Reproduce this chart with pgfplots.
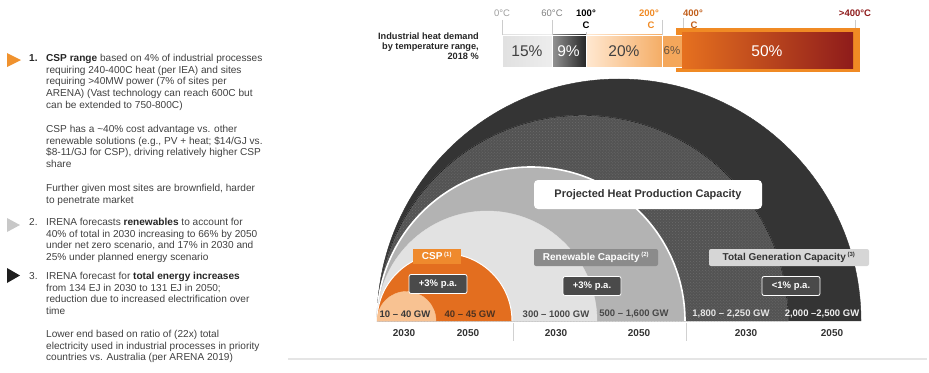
\documentclass[border=0pt]{standalone}
\usepackage{fontspec}
\setmainfont{Liberation Sans}
\usepackage{pgfplots}
\pgfplotsset{compat=1.18}
\usetikzlibrary{patterns}

\definecolor{txt}{HTML}{404040}
\definecolor{txtb}{HTML}{262626}
\definecolor{tdark}{HTML}{343434}
\definecolor{ttex}{HTML}{535353}
\definecolor{rmed}{HTML}{B3B3B3}
\definecolor{rlight}{HTML}{E2E2E2}
\definecolor{corange}{HTML}{E36E1F}
\definecolor{cpeach}{HTML}{F8C292}
\definecolor{boxorange}{HTML}{EF8A2D}
\definecolor{boxdark}{HTML}{4A4A4A}
\definecolor{boxgray}{HTML}{8B8B8B}
\definecolor{boxlight}{HTML}{D6D6D6}
\definecolor{tri1}{HTML}{F0922E}
\definecolor{tri2}{HTML}{C8C8C8}
\definecolor{tri3}{HTML}{1E1E1E}
\definecolor{frameor}{HTML}{F08A24}
\definecolor{red50}{HTML}{8E1B1B}
\definecolor{o50}{HTML}{E6711F}
\definecolor{gwor}{HTML}{4E3220}

% semicircle mark: radius = mark size, sitting on the data point
\pgfdeclareplotmark{semidisk}{%
  \pgfpathmoveto{\pgfqpoint{\pgfplotmarksize}{0pt}}%
  \pgfpatharc{0}{180}{\pgfplotmarksize}%
  \pgfpathclose
  \pgfusepathqfill
  \pgfpathmoveto{\pgfqpoint{\pgfplotmarksize}{0pt}}%
  \pgfpatharc{0}{180}{\pgfplotmarksize}%
  \pgfusepathqstroke
}

\newcommand{\fs}[2]{\fontsize{#1bp}{#2bp}\selectfont}

\tikzset{
  para/.style={anchor=base west, inner sep=0, text=txt, font=\fs{10.1}{11.7}},
  pct/.style={inner sep=0, font=\fs{15.5}{16}},
  tk/.style={anchor=base, inner sep=0, font=\fs{9.5}{10}},
  bx/.style={inner sep=0, font=\fs{10}{11}\bfseries, text=white},
  pa/.style={bx, fill=boxdark, draw=white, line width=0.8bp, rounded corners=2bp,
    minimum width=58bp, minimum height=19bp, font=\fs{9.5}{10}\bfseries},
  gw/.style={inner sep=0, font=\fs{9.5}{10}\bfseries},
  yr/.style={inner sep=0, font=\fs{10}{11}\bfseries, text=black!80}
}

\begin{document}
\begin{tikzpicture}
\begin{axis}[x=1bp, y=1bp, xmin=0, xmax=929, ymin=0, ymax=372,
  scale only axis, hide axis, clip=false, set layers=standard]
\path (axis cs:0,0) rectangle (axis cs:929,372);

% ---------------- left text panel ----------------
\addplot[fill=tri1, draw=none] coordinates {(7,319) (7,305) (21,312)} -- cycle;
\addplot[fill=tri2, draw=none] coordinates {(7,154) (7,140) (20,147)} -- cycle;
\addplot[fill=tri3, draw=none] coordinates {(7,104) (7,89) (20,96.5)} -- cycle;

\node[para, font=\fs{10.1}{11.7}\bfseries, text=txtb] at (axis cs:29,310.5) {1.};
\node[para] at (axis cs:46,310.5) {\parbox[t]{270bp}{\raggedright
\textbf{\color{txtb}CSP range} based on 4\% of industrial processes\\
requiring 240-400C heat (per IEA) and sites\\
requiring >40MW power (7\% of sites per\\
ARENA) (Vast technology can reach 600C but\\
can be extended to 750-800C)}};
\node[para] at (axis cs:46,239.5) {\parbox[t]{270bp}{\raggedright
CSP has a \textasciitilde40\% cost advantage vs. other\\
renewable solutions (e.g., PV + heat; \$14/GJ vs.\\
\$8-11/GJ for CSP), driving relatively higher CSP\\
share}};
\node[para] at (axis cs:46,180.5) {\parbox[t]{270bp}{\raggedright
Further given most sites are brownfield, harder\\
to penetrate market}};
\node[para] at (axis cs:29,146.5) {2.};
\node[para] at (axis cs:46,146.5) {\parbox[t]{270bp}{\raggedright
IRENA forecasts \textbf{\color{txtb}renewables} to account for\\
40\% of total in 2030 increasing to 66\% by 2050\\
under net zero scenario, and 17\% in 2030 and\\
25\% under planned energy scenario}};
\node[para] at (axis cs:29,92.5) {3.};
\node[para] at (axis cs:46,92.5) {\parbox[t]{270bp}{\raggedright
IRENA forecast for \textbf{\color{txtb}total energy increases}\\
from 134 EJ in 2030 to 131 EJ in 2050;\\
reduction due to increased electrification over\\
time}};
\node[para] at (axis cs:46,34.5) {\parbox[t]{270bp}{\raggedright
Lower end based on ratio of (22x) total\\
electricity used in industrial processes in priority\\
countries vs. Australia (per ARENA 2019)}};

% ---------------- top bar ----------------
\node[anchor=base east, inner sep=0, text=txtb, font=\fs{9.2}{10}\bfseries]
  at (axis cs:479,332.5) {\parbox[t]{140bp}{\raggedleft
  Industrial heat demand\\ by temperature range,\\ 2018 \%}};

% highlight frame for >400C
\addplot[fill=frameor, draw=none] coordinates {(676,300) (860,300) (860,344) (676,344)} -- cycle;
% segments (15, 9, 20, 6, 50 %)
\addplot[draw=white, line width=0.4bp, left color=black!12, right color=black!7]
  coordinates {(502,305) (552,305) (552,337) (502,337)} -- cycle;
\addplot[draw=white, line width=0.4bp, left color=black!42, right color=black!85]
  coordinates {(552,305) (586,305) (586,337) (552,337)} -- cycle;
\addplot[draw=white, line width=0.4bp, left color=orange!18, right color=frameor!70]
  coordinates {(586,305) (662,305) (662,337) (586,337)} -- cycle;
\addplot[draw=white, line width=0.4bp, fill=frameor!75]
  coordinates {(662,305) (682,305) (682,337) (662,337)} -- cycle;
\addplot[draw=none, left color=o50, right color=red50]
  coordinates {(682,304) (853,304) (853,339) (682,339)} -- cycle;

\node[pct, text=txt] at (axis cs:527,321) {15\%};
\node[pct, text=white] at (axis cs:568.5,321) {9\%};
\node[pct, text=txt] at (axis cs:624,321) {20\%};
\node[pct, text=txt!70!brown, font=\fs{11.5}{12}] at (axis cs:672,321) {6\%};
\node[pct, text=white] at (axis cs:767,321) {50\%};

% temperature ticks
\addplot[draw=black!20, line width=0.6bp] coordinates {(502,352) (502,337)};
\addplot[draw=black!20, line width=0.6bp] coordinates {(552,352) (552,337)};
\addplot[draw=black!20, line width=0.6bp] coordinates {(586,340) (586,337)};
\addplot[draw=black!20, line width=0.6bp] coordinates {(662,352) (662,337)};
\addplot[draw=black!20, line width=0.6bp] coordinates {(683,354) (683,344)};
\addplot[draw=black!20, line width=0.6bp] coordinates {(855,352) (855,344)};

\node[tk, text=black!38] at (axis cs:502,355.5) {0°C};
\node[tk, text=black!50] at (axis cs:552,355.5) {60°C};
\node[tk, text=black, font=\fs{9.5}{10}\bfseries] at (axis cs:586,355.5) {100°};
\node[tk, text=black, font=\fs{9.5}{10}\bfseries] at (axis cs:586,343.5) {C};
\node[tk, text=frameor, font=\fs{9.5}{10}\bfseries] at (axis cs:649,355.5) {200°};
\node[tk, text=frameor, font=\fs{9.5}{10}\bfseries] at (axis cs:651,343.5) {C};
\node[tk, text=corange!85!black, font=\fs{9.5}{10}\bfseries] at (axis cs:693,355.5) {400°};
\node[tk, text=corange!85!black, font=\fs{9.5}{10}\bfseries] at (axis cs:694,343.5) {C};
\node[tk, text=red50, font=\fs{9.5}{10}\bfseries] at (axis cs:855,355.5) {>400°C};

% ---------------- semicircles ----------------
\addplot[only marks, mark=semidisk, mark size=242bp, mark layer=pre main,
  mark options={fill=tdark, draw=tdark}] coordinates {(619,51)};
\addplot[only marks, mark=semidisk, mark size=205.5bp, mark layer=pre main,
  mark options={fill=ttex, draw=black!45, line width=0.8bp}] coordinates {(582.5,51)};
\addplot[only marks, mark=semidisk, mark size=205.5bp, mark layer=pre main,
  mark options={pattern=crosshatch dots, pattern color=black!58, draw=none}] coordinates {(582.5,51)};
\addplot[only marks, mark=semidisk, mark size=154bp, mark layer=pre main,
  mark options={fill=rmed, draw=white, line width=1.6bp}] coordinates {(531,51)};
\addplot[only marks, mark=semidisk, mark size=110bp, mark layer=pre main,
  mark options={fill=rlight, draw=rlight}] coordinates {(487,51)};
\addplot[only marks, mark=semidisk, mark size=67.5bp, mark layer=pre main,
  mark options={fill=corange, draw=white, line width=1bp}] coordinates {(444.5,51)};
\addplot[only marks, mark=semidisk, mark size=29.5bp, mark layer=pre main,
  mark options={fill=cpeach, draw=cpeach}] coordinates {(406.5,51)};

\begin{pgfonlayer}{axis foreground}
% boxes
\node[bx, fill=white, text=black!80, rounded corners=4bp, minimum width=228bp,
  minimum height=29bp, font=\fs{11}{12}\bfseries] at (axis cs:648,177.5)
  {Projected Heat Production Capacity};
\node[bx, fill=boxorange, minimum width=48bp, minimum height=15bp]
  at (axis cs:437,116) {CSP\,\textsuperscript{\fs{6}{6}(1)}};
\node[bx, fill=boxgray, rounded corners=2bp, minimum width=124bp, minimum height=17bp]
  at (axis cs:596,114.5) {Renewable Capacity\,\textsuperscript{\fs{6}{6}(2)}};
\node[bx, fill=boxlight, text=black!80, rounded corners=2bp, minimum width=160bp,
  minimum height=17bp] at (axis cs:789,114.5)
  {Total Generation Capacity\,\textsuperscript{\fs{6}{6}(3)}};
\node[pa] at (axis cs:438,88) {+3\% p.a.};
\node[pa] at (axis cs:592,86) {+3\% p.a.};
\node[pa] at (axis cs:791,86) {<1\% p.a.};

% values
\node[gw, text=black!78] at (axis cs:405,58) {10 – 40 GW};
\node[gw, text=gwor] at (axis cs:470,58) {40 – 45 GW};
\node[gw, text=black!72] at (axis cs:556,58) {300 – 1000 GW};
\node[gw, text=black!72] at (axis cs:634,58) {500 – 1,600 GW};
\node[gw, text=black!10] at (axis cs:731,58) {1,800 – 2,250 GW};
\node[gw, text=black!6] at (axis cs:822,58) {2,000 –2,500 GW};

% years
\node[yr] at (axis cs:404,39) {2030};
\node[yr] at (axis cs:468,39) {2050};
\node[yr] at (axis cs:556,39) {2030};
\node[yr] at (axis cs:639,39) {2050};
\node[yr] at (axis cs:746,39) {2030};
\node[yr] at (axis cs:832,39) {2050};
\end{pgfonlayer}

\addplot[draw=black!18, line width=0.6bp] coordinates {(513,49) (513,31)};
\addplot[draw=black!18, line width=0.6bp] coordinates {(686,49) (686,31)};
\addplot[draw=black!10, line width=1.2bp] coordinates {(288,13) (927,13)};
\end{axis}
\end{tikzpicture}
\end{document}
